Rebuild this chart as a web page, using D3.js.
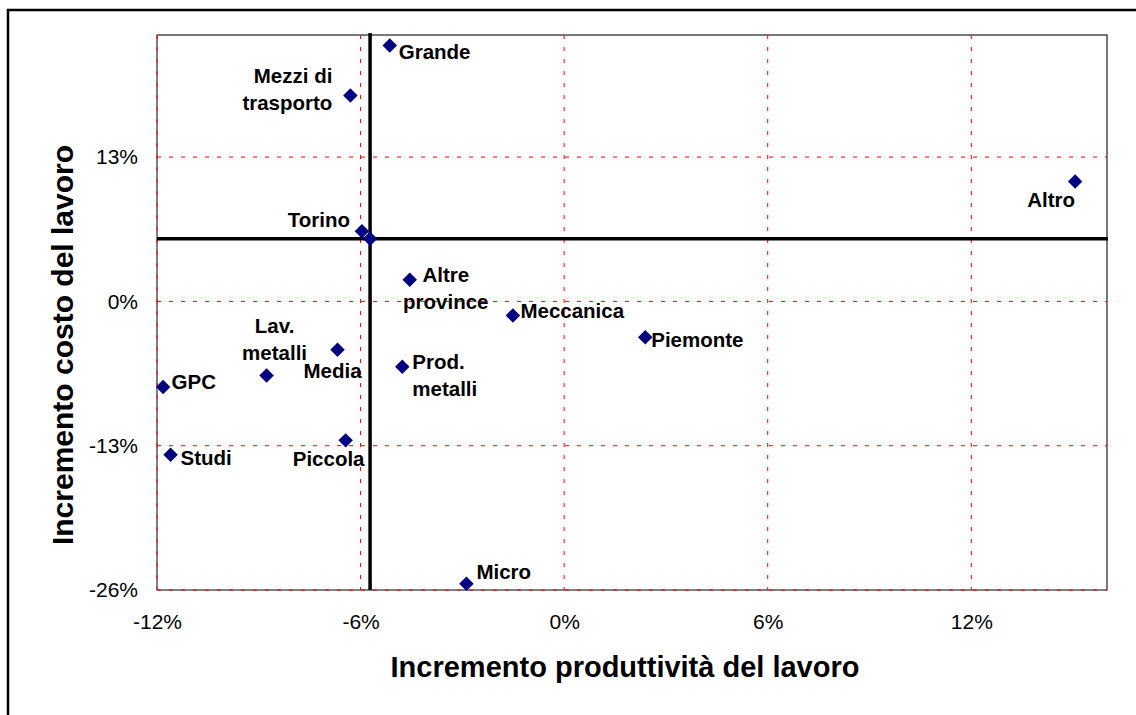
<!DOCTYPE html>
<html>
<head>
<meta charset="utf-8">
<script src="https://cdn.jsdelivr.net/npm/d3@7"></script>
<style>
    html, body { margin: 0; padding: 0; background: #ffffff; }
    #chart { width: 1136px; height: 715px; }
</style>
</head>
<body>
<div id="chart"></div>
<script>
// Sector / area names ('\n' splits a label over two lines)
const names = [
    'Grande', 'Mezzi di\ntrasporto', 'Torino', '', 'Altre\nprovince',
    'Meccanica', 'Piemonte', 'Altro', 'Lav.\nmetalli', 'Media',
    'GPC', 'Studi', 'Piccola', 'Prod.\nmetalli', 'Micro'
];
// Incremento produttività del lavoro (%)
const productivity = [
    -5.14, -6.30, -5.72, -5.96, -4.55,
    -1.51, 2.39, 15.06, -8.77, -6.68,
    -11.82, -11.60, -6.44, -4.77, -2.88
];
// Incremento costo del lavoro (%)
const laborCost = [
    23.06, 18.56, 5.65, 6.33, 1.96,
    -1.26, -3.22, 10.81, -6.67, -4.35,
    -7.72, -13.81, -12.52, -5.88, -25.43
];
const xTicks = [-12, -6, 0, 6, 12];
const yTicks = [-26, -13, 0, 13];
const xDomain = [-12, 16];
const yDomain = [-26, 24];

// Where each label sits relative to its marker
const labelPlacement = {
    'Grande': { dx: 9, dy: 14, anchor: 'start' },
    'Mezzi di\ntrasporto': { dx: -18, dy: -12, anchor: 'end' },
    'Torino': { dx: -20, dy: -12, anchor: 'end' },
    'Altre\nprovince': { dx: 36, dy: 2.5, anchor: 'middle' },
    'Meccanica': { dx: 7.5, dy: 2.5, anchor: 'start' },
    'Piemonte': { dx: 6, dy: 10, anchor: 'start' },
    'Altro': { dx: 0, dy: 26, anchor: 'end' },
    'Lav.\nmetalli': { dx: 8, dy: -42, anchor: 'middle' },
    'Media': { dx: -5, dy: 28, anchor: 'middle' },
    'GPC': { dx: 8.5, dy: 2, anchor: 'start' },
    'Studi': { dx: 10, dy: 10, anchor: 'start' },
    'Piccola': { dx: -17, dy: 26, anchor: 'middle' },
    'Prod.\nmetalli': { dx: 10, dy: 2, anchor: 'start' },
    'Micro': { dx: 10, dy: -5, anchor: 'start' }
};

/**
 * Draw the scatter chart
 * @param {HTMLElement} container - Container element
 */
function renderChart(container) {
    const width = 1136;
    const height = 715;
    const plot = { left: 157, right: 1107, top: 35, bottom: 590 };
    const font = '"Liberation Sans", Arial, sans-serif';

    const svg = d3.select(container)
        .append('svg')
        .attr('width', width)
        .attr('height', height)
        .style('font-family', font);

    // Outer chart border (right/bottom run off the picture)
    svg.append('rect')
        .attr('x', 8)
        .attr('y', 10)
        .attr('width', width + 20)
        .attr('height', height + 20)
        .attr('fill', '#ffffff')
        .attr('stroke', '#000000')
        .attr('stroke-width', 2.5);

    const x = d3.scaleLinear().domain(xDomain).range([plot.left, plot.right]);
    const y = d3.scaleLinear().domain(yDomain).range([plot.bottom, plot.top]);

    // Plot area frame
    svg.append('rect')
        .attr('x', plot.left)
        .attr('y', plot.top)
        .attr('width', plot.right - plot.left)
        .attr('height', plot.bottom - plot.top)
        .attr('fill', '#ffffff')
        .attr('stroke', '#202020')
        .attr('stroke-width', 1.2);

    // Axis lines (grey, on left and bottom)
    svg.append('line')
        .attr('x1', plot.left).attr('x2', plot.left)
        .attr('y1', plot.top).attr('y2', plot.bottom)
        .attr('stroke', '#808080').attr('stroke-width', 2);
    svg.append('line')
        .attr('x1', plot.left).attr('x2', plot.right)
        .attr('y1', plot.bottom).attr('y2', plot.bottom)
        .attr('stroke', '#808080').attr('stroke-width', 2);

    // Red dashed gridlines
    const grid = svg.append('g').attr('class', 'grid');
    grid.selectAll('line.vgrid')
        .data(xTicks)
        .enter()
        .append('line')
        .attr('class', 'vgrid')
        .attr('x1', d => x(d)).attr('x2', d => x(d))
        .attr('y1', plot.top).attr('y2', plot.bottom)
        .attr('stroke', '#ff0000')
        .attr('stroke-width', 1)
        .attr('stroke-dasharray', '4,8');
    grid.selectAll('line.hgrid')
        .data(yTicks)
        .enter()
        .append('line')
        .attr('class', 'hgrid')
        .attr('x1', plot.left).attr('x2', plot.right)
        .attr('y1', d => y(d)).attr('y2', d => y(d))
        .attr('stroke', '#ff0000')
        .attr('stroke-width', 1)
        .attr('stroke-dasharray', '4,8');

    // Tick labels via d3 axes (no tick marks, no domain line)
    const xAxis = svg.append('g')
        .attr('transform', `translate(0,${plot.bottom})`)
        .call(d3.axisBottom(x).tickValues(xTicks).tickSize(0).tickPadding(24)
            .tickFormat(d => d + '%'));
    const yAxis = svg.append('g')
        .attr('transform', `translate(${plot.left},0)`)
        .call(d3.axisLeft(y).tickValues(yTicks).tickSize(0).tickPadding(19)
            .tickFormat(d => d + '%'));
    [xAxis, yAxis].forEach(axis => {
        axis.select('.domain').remove();
        axis.selectAll('text')
            .style('font-family', font)
            .style('font-size', '21px')
            .attr('fill', '#000000');
    });

    // Reference cross through Torino
    const ti = names.indexOf('Torino');
    svg.append('line')
        .attr('x1', x(productivity[ti])).attr('x2', x(productivity[ti]))
        .attr('y1', plot.top - 2).attr('y2', plot.bottom)
        .attr('stroke', '#000000').attr('stroke-width', 3.5);
    svg.append('line')
        .attr('x1', plot.left).attr('x2', plot.right + 1)
        .attr('y1', y(laborCost[ti])).attr('y2', y(laborCost[ti]))
        .attr('stroke', '#000000').attr('stroke-width', 3.5);

    const points = names.map((name, i) => ({
        name,
        px: productivity[i],
        cy: laborCost[i]
    }));

    // Diamond markers
    svg.append('g')
        .selectAll('path')
        .data(points)
        .enter()
        .append('path')
        .attr('d', d3.symbol(d3.symbolSquare, 105))
        .attr('transform', d => `translate(${x(d.px)},${y(d.cy)}) rotate(45)`)
        .attr('fill', '#000080');

    // Data labels
    const labels = svg.append('g')
        .selectAll('text')
        .data(points.filter(d => d.name))
        .enter()
        .append('text')
        .attr('text-anchor', d => labelPlacement[d.name].anchor)
        .style('font-size', '20.5px')
        .style('font-weight', 'bold')
        .attr('fill', '#000000');
    labels.selectAll('tspan')
        .data(d => d.name.split('\n').map((line, k) => ({ line, k, d })))
        .enter()
        .append('tspan')
        .attr('x', t => x(t.d.px) + labelPlacement[t.d.name].dx)
        .attr('y', t => y(t.d.cy) + labelPlacement[t.d.name].dy + t.k * 27)
        .text(t => t.line);

    // Axis titles
    svg.append('text')
        .attr('x', 625)
        .attr('y', 677)
        .attr('text-anchor', 'middle')
        .style('font-size', '29px')
        .style('font-weight', 'bold')
        .text('Incremento produttività del lavoro');
    svg.append('text')
        .attr('transform', 'translate(73,345) rotate(-90)')
        .attr('text-anchor', 'middle')
        .style('font-size', '30px')
        .style('font-weight', 'bold')
        .text('Incremento costo del lavoro');
}

renderChart(document.getElementById('chart'));
</script>
</body>
</html>
